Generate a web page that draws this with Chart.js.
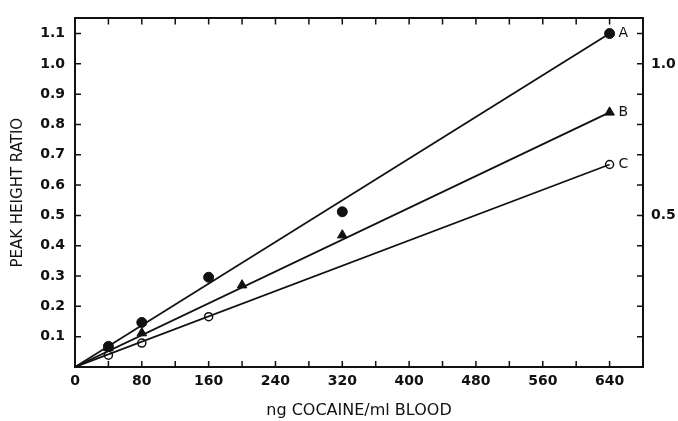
<!DOCTYPE html>
<html>
<head>
<meta charset="utf-8">
<script src="https://cdn.jsdelivr.net/npm/chart.js@4.4.0/dist/chart.umd.min.js"></script>
<style>
  html, body { margin: 0; padding: 0; background: #fff; }
  #wrap { width: 678px; height: 421px; }
</style>
</head>
<body>
<div id="wrap"><canvas id="chart"></canvas></div>
<script>
// measured points
const concA = [40, 80, 160, 320, 640];
const ratioA = [0.068, 0.147, 0.296, 0.512, 1.10];
const concB = [40, 80, 200, 320, 640];
const ratioB = [0.063, 0.112, 0.27, 0.435, 0.84];
const concC = [40, 80, 160, 640];
const ratioC = [0.039, 0.079, 0.166, 0.668];

// fitted lines
const fitConc = [0, 640];
const fitA = [0, 1.10];
const fitB = [0, 0.84];
const fitC = [0, 0.668];

const seriesNames = ['A', 'B', 'C'];
const xLabelTicks = [0, 80, 160, 240, 320, 400, 480, 560, 640];
const yLabelTicks = [0.1, 0.2, 0.3, 0.4, 0.5, 0.6, 0.7, 0.8, 0.9, 1.0, 1.1];
const rightLabelTicks = [0.5, 1.0];

function toPoints(xs, ys) {
  return xs.map((x, i) => ({ x: x, y: ys[i] }));
}

const tickFont = { family: 'DejaVu Sans', size: 14, weight: 'bold' };
const ink = '#111';

// draws short ticks pointing into the plot, like the original
const inwardTicks = {
  id: 'inwardTicks',
  afterDraw(chart) {
    const ctx = chart.ctx;
    const area = chart.chartArea;
    ctx.save();
    ctx.strokeStyle = ink;
    ctx.lineWidth = 1.5;
    const len = 6;
    for (let v = 40; v < 680; v += 40) {
      const px = chart.scales.x.getPixelForValue(v);
      ctx.beginPath();
      ctx.moveTo(px, area.bottom);
      ctx.lineTo(px, area.bottom - len);
      ctx.moveTo(px, area.top);
      ctx.lineTo(px, area.top + len);
      ctx.stroke();
    }
    yLabelTicks.forEach((v) => {
      const py = chart.scales.y.getPixelForValue(v);
      ctx.beginPath();
      ctx.moveTo(area.left, py);
      ctx.lineTo(area.left + len, py);
      ctx.moveTo(area.right, py);
      ctx.lineTo(area.right - len, py);
      ctx.stroke();
    });
    ctx.restore();
  }
};

// the A / B / C tags beside the last point of each series
const endTags = {
  id: 'endTags',
  afterDatasetsDraw(chart) {
    const ctx = chart.ctx;
    ctx.save();
    ctx.fillStyle = ink;
    ctx.font = '14px "DejaVu Sans"';
    ctx.textBaseline = 'middle';
    [3, 4, 5].forEach((di, i) => {
      const pts = chart.getDatasetMeta(di).data;
      const last = pts[pts.length - 1];
      ctx.fillText(seriesNames[i], last.x + 9, last.y);
    });
    ctx.restore();
  }
};

function fixWidth(w) { return (scale) => { scale.width = w; }; }
function fixHeight(h) { return (scale) => { scale.height = h; }; }

new Chart(document.getElementById('chart'), {
  type: 'scatter',
  data: {
    datasets: [
      { data: toPoints(fitConc, fitA), showLine: true, borderColor: ink, borderWidth: 1.8, pointRadius: 0, xAxisID: 'x', yAxisID: 'y' },
      { data: toPoints(fitConc, fitB), showLine: true, borderColor: ink, borderWidth: 1.8, pointRadius: 0, xAxisID: 'x', yAxisID: 'y' },
      { data: toPoints(fitConc, fitC), showLine: true, borderColor: ink, borderWidth: 1.8, pointRadius: 0, xAxisID: 'x', yAxisID: 'y' },
      { label: 'A', data: toPoints(concA, ratioA), pointStyle: 'circle', pointRadius: 5, backgroundColor: ink, borderColor: ink, xAxisID: 'x', yAxisID: 'y' },
      { label: 'B', data: toPoints(concB, ratioB), pointStyle: 'triangle', pointRadius: 5.5, backgroundColor: ink, borderColor: ink, xAxisID: 'x', yAxisID: 'y' },
      { label: 'C', data: toPoints(concC, ratioC), pointStyle: 'circle', pointRadius: 4, backgroundColor: '#fff', borderColor: ink, borderWidth: 1.5, xAxisID: 'x', yAxisID: 'y' }
    ]
  },
  options: {
    responsive: true,
    maintainAspectRatio: false,
    animation: false,
    layout: { padding: 0 },
    plugins: { legend: { display: false }, tooltip: { enabled: false } },
    scales: {
      x: {
        type: 'linear', position: 'bottom', min: 0, max: 680,
        afterBuildTicks: (s) => { s.ticks = xLabelTicks.map((v) => ({ value: v })); },
        ticks: { color: ink, font: tickFont, padding: 6, maxRotation: 0 },
        grid: { drawOnChartArea: false, drawTicks: false },
        border: { color: ink, width: 2 },
        title: { display: true, text: 'ng COCAINE/ml BLOOD', color: ink, font: { family: 'DejaVu Sans', size: 16 }, padding: { top: 4, bottom: 1 } },
        afterFit: fixHeight(54)
      },
      x2: {
        type: 'linear', position: 'top', min: 0, max: 680,
        ticks: { display: false },
        grid: { drawOnChartArea: false, drawTicks: false },
        border: { color: ink, width: 2 },
        afterFit: fixHeight(13)
      },
      y: {
        type: 'linear', position: 'left', min: 0, max: 1.15,
        afterBuildTicks: (s) => { s.ticks = yLabelTicks.map((v) => ({ value: v })); },
        ticks: { color: ink, font: tickFont, padding: 10, callback: (v) => v.toFixed(1) },
        grid: { drawOnChartArea: false, drawTicks: false },
        border: { color: ink, width: 2 },
        title: { display: true, text: 'PEAK HEIGHT RATIO', color: ink, font: { family: 'DejaVu Sans', size: 15 }, padding: { top: 9, bottom: 0 } },
        afterFit: fixWidth(75)
      },
      y2: {
        type: 'linear', position: 'right', min: 0, max: 1.15,
        afterBuildTicks: (s) => { s.ticks = rightLabelTicks.map((v) => ({ value: v })); },
        ticks: { color: ink, font: tickFont, padding: 8, callback: (v) => v.toFixed(1) },
        grid: { drawOnChartArea: false, drawTicks: false },
        border: { color: ink, width: 2 },
        afterFit: fixWidth(35)
      }
    }
  },
  plugins: [inwardTicks, endTags]
});
</script>
</body>
</html>
